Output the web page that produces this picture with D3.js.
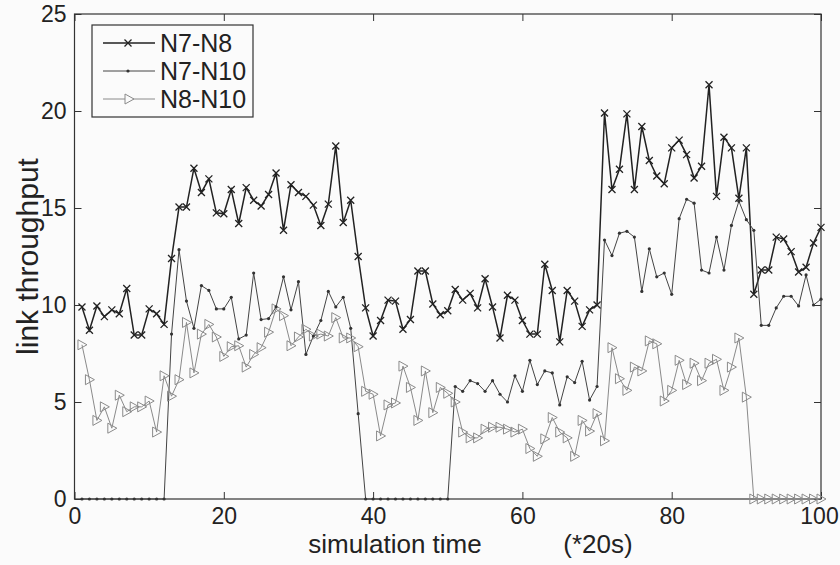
<!DOCTYPE html>
<html>
<head>
<meta charset="utf-8">
<script src="https://cdn.jsdelivr.net/npm/d3@7"></script>
<style>
  body { margin: 0; background: #fbfbfb; }
  text { font-family: "Liberation Sans", Arial, Helvetica, sans-serif; fill: #222; }
</style>
</head>
<body>
<div class="chart-container"></div>
<script>
// time steps (x axis, units of 20s)
const steps = d3.range(1, 101);

// series values
const n7n8 = [
  9.9, 8.7, 9.95, 9.4, 9.75, 9.55, 10.85, 8.45, 8.45, 9.8,
  9.55, 9.0, 12.4, 15.05, 15.05, 17.05, 15.8, 16.5, 14.75, 14.7,
  15.95, 14.2, 16.05, 15.4, 15.1, 15.7, 16.8, 13.85, 16.2, 15.8,
  15.6, 15.15, 14.1, 15.2, 18.2, 14.25, 15.4, 12.5, 9.85, 8.4,
  9.2, 10.25, 10.2, 8.75, 9.25, 11.75, 11.75, 10.05, 9.5, 9.7,
  10.8, 10.25, 10.6, 9.85, 11.35, 9.9, 8.3, 10.5, 10.25, 9.2,
  8.5, 8.5, 12.1, 10.75, 8.1, 10.75, 10.2, 8.9, 9.75, 10.0,
  19.9, 15.95, 17.0, 19.85, 15.95, 19.2, 17.45, 16.65, 16.25, 18.1,
  18.5, 17.75, 16.55, 17.15, 21.35, 15.6, 18.65, 18.1, 15.5, 18.1,
  10.55, 11.8, 11.8, 13.5, 13.4, 12.75, 11.7, 11.95, 13.2, 14.0
];
const n7n10 = [
  0, 0, 0, 0, 0, 0, 0, 0, 0, 0,
  0, 0, 8.5, 12.85, 10.2, 8.8, 11.0, 10.75, 9.8, 9.8,
  10.4, 8.25, 8.45, 11.65, 9.25, 9.3, 9.9, 11.45, 9.75, 11.2,
  7.45, 8.4, 9.2, 10.7, 9.9, 10.4, 8.8, 4.4, 0, 0,
  0, 0, 0, 0, 0, 0, 0, 0, 0, 0,
  5.8, 5.55, 6.1, 5.95, 5.55, 6.1, 5.4, 5.0, 6.35, 5.55,
  7.15, 5.9, 6.6, 6.5, 4.85, 6.3, 6.0, 7.1, 5.1, 5.8,
  13.35, 12.55, 13.7, 13.8, 13.5, 10.7, 12.9, 11.45, 11.65, 10.55,
  14.45, 15.45, 15.25, 11.8, 11.65, 13.5, 11.8, 14.1, 15.35, 14.4,
  13.85, 8.95, 8.95, 9.85, 10.45, 10.45, 9.95, 11.55, 10.0, 10.3
];
const n8n10 = [
  7.95, 6.15, 4.05, 4.75, 3.65, 5.35, 4.5, 4.75, 4.75, 5.05,
  3.45, 6.35, 5.3, 6.15, 9.1, 6.5, 8.5, 9.0, 8.35, 7.35,
  7.85, 7.9, 6.8, 7.45, 7.8, 8.6, 9.8, 9.45, 7.9, 8.35,
  8.75, 8.4, 8.5, 8.4, 9.35, 8.3, 8.3, 7.85, 5.55, 5.4,
  3.25, 4.85, 4.95, 6.85, 5.75, 4.05, 6.6, 4.45, 5.75, 5.45,
  5.0, 3.45, 3.15, 3.15, 3.6, 3.7, 3.7, 3.6, 3.45, 3.6,
  2.6, 2.2, 3.1, 4.2, 3.45, 3.15, 2.2, 4.05, 3.5, 4.4,
  3.0, 7.8, 6.2, 5.6, 6.8, 6.6, 8.15, 8.0, 5.05, 5.6,
  7.15, 5.9, 7.0, 6.1, 7.0, 7.2, 5.6, 6.8, 8.3, 5.25,
  0, 0, 0, 0, 0, 0, 0, 0, 0, 0
];

const seriesNames = ["N7-N8", "N7-N10", "N8-N10"];
const xTicks = [0, 20, 40, 60, 80, 100];
const yTicks = [0, 5, 10, 15, 20, 25];

const width = 840;
const height = 565;
const marginTop = 14;
const marginRight = 19;
const marginBottom = 66;
const marginLeft = 74.5;

const x = d3.scaleLinear()
    .domain([0, 100])
    .range([marginLeft, width - marginRight]);

const y = d3.scaleLinear()
    .domain([0, 25])
    .range([height - marginBottom, marginTop]);

const svg = d3.select(".chart-container").append("svg")
    .attr("width", width)
    .attr("height", height);

// axes, inward ticks like the original
const bottomAxis = svg.append("g")
    .attr("transform", `translate(0,${y(0)})`)
    .call(d3.axisBottom(x).tickValues(xTicks).tickSize(-7).tickSizeOuter(0).tickPadding(9));
svg.append("g")
    .attr("transform", `translate(${x(0)},0)`)
    .call(d3.axisLeft(y).tickValues(yTicks).tickSize(-7).tickSizeOuter(0).tickPadding(8));
svg.append("g")
    .attr("transform", `translate(0,${y(25)})`)
    .call(d3.axisTop(x).tickValues(xTicks).tickSize(-7).tickSizeOuter(0).tickFormat(""));
svg.append("g")
    .attr("transform", `translate(${x(100)},0)`)
    .call(d3.axisRight(y).tickValues(yTicks).tickSize(-7).tickSizeOuter(0).tickFormat(""));

svg.selectAll(".domain").remove();
svg.selectAll(".tick line").attr("stroke", "#333").attr("stroke-width", 1);
svg.selectAll(".tick text")
    .attr("font-family", "Liberation Sans, Arial, sans-serif")
    .attr("font-size", 23)
    .attr("fill", "#222");
// keep the last label inside the window
bottomAxis.selectAll(".tick text").filter(d => d === 100).attr("dx", -2);

// frame
svg.append("rect")
    .attr("x", x(0))
    .attr("y", y(25))
    .attr("width", x(100) - x(0))
    .attr("height", y(0) - y(25))
    .attr("fill", "none")
    .attr("stroke", "#333")
    .attr("stroke-width", 1.2);

// axis labels
svg.append("text")
    .attr("x", 395)
    .attr("y", 553)
    .attr("text-anchor", "middle")
    .attr("font-size", 26)
    .text("simulation time");
svg.append("text")
    .attr("x", 598)
    .attr("y", 553)
    .attr("text-anchor", "middle")
    .attr("font-size", 26)
    .text("(*20s)");
svg.append("text")
    .attr("transform", `translate(38,${(y(0) + y(25)) / 2}) rotate(-90)`)
    .attr("text-anchor", "middle")
    .attr("font-size", 30)
    .text("link throughput");

// marker shapes
const crossPath = "M-3.5,-3.5L3.5,3.5M-3.5,3.5L3.5,-3.5";
const triPath = "M-4,-5L5,0L-4,5Z";

const line = d3.line()
    .x((d, i) => x(steps[i]))
    .y(d => y(d));

const styles = [
  {values: n7n8, stroke: "#222", width: 1.5},
  {values: n7n10, stroke: "#444", width: 1},
  {values: n8n10, stroke: "#8a8a8a", width: 1}
];

// lines
styles.forEach(s => {
  svg.append("path")
      .datum(s.values)
      .attr("fill", "none")
      .attr("stroke", s.stroke)
      .attr("stroke-width", s.width)
      .attr("d", line);
});

// N8-N10 triangles
svg.append("g").selectAll("path")
    .data(n8n10)
    .join("path")
    .attr("transform", (d, i) => `translate(${x(steps[i])},${y(d)})`)
    .attr("d", triPath)
    .attr("fill", "none")
    .attr("stroke", "#8a8a8a")
    .attr("stroke-width", 1);

// N7-N10 dots
svg.append("g").selectAll("circle")
    .data(n7n10)
    .join("circle")
    .attr("cx", (d, i) => x(steps[i]))
    .attr("cy", d => y(d))
    .attr("r", 1.6)
    .attr("fill", "#333");

// N7-N8 crosses
svg.append("g").selectAll("path")
    .data(n7n8)
    .join("path")
    .attr("transform", (d, i) => `translate(${x(steps[i])},${y(d)})`)
    .attr("d", crossPath)
    .attr("stroke", "#222")
    .attr("stroke-width", 1.3);

// legend
const legend = svg.append("g");
legend.append("rect")
    .attr("x", 92)
    .attr("y", 25)
    .attr("width", 161)
    .attr("height", 92)
    .attr("fill", "#fbfbfb")
    .attr("stroke", "#333")
    .attr("stroke-width", 1.2);

const rows = legend.selectAll("g.row")
    .data(seriesNames)
    .join("g")
    .attr("class", "row")
    .attr("transform", (d, i) => `translate(0,${43 + i * 28})`);

rows.append("line")
    .attr("x1", 103)
    .attr("x2", 155)
    .attr("stroke", (d, i) => styles[i].stroke)
    .attr("stroke-width", (d, i) => styles[i].width);

rows.filter((d, i) => i === 0).append("path")
    .attr("transform", "translate(128,0)")
    .attr("d", crossPath)
    .attr("stroke", "#222")
    .attr("stroke-width", 1.3);
rows.filter((d, i) => i === 1).append("circle")
    .attr("cx", 128)
    .attr("r", 1.6)
    .attr("fill", "#333");
rows.filter((d, i) => i === 2).append("path")
    .attr("transform", "translate(129,0)")
    .attr("d", triPath)
    .attr("fill", "#fbfbfb")
    .attr("stroke", "#8a8a8a");

rows.append("text")
    .attr("x", 160)
    .attr("dy", "0.36em")
    .attr("font-size", 25)
    .text(d => d);
</script>
</body>
</html>
